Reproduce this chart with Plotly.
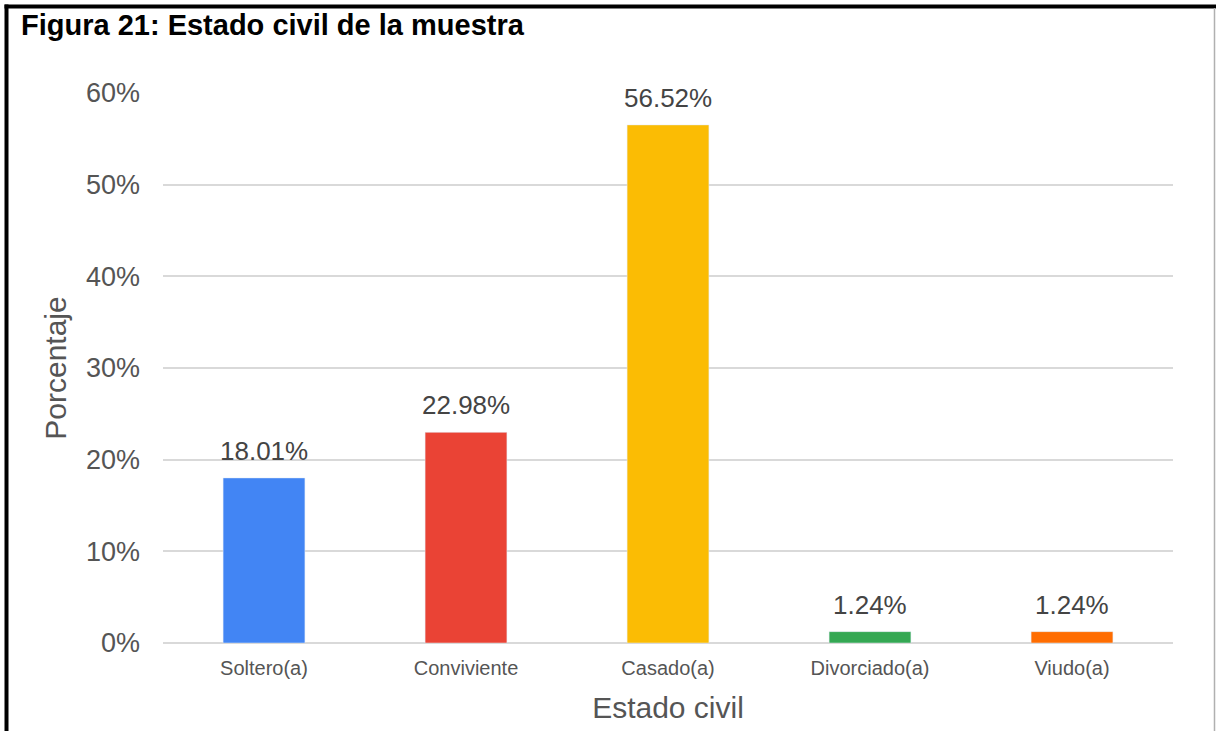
import plotly.graph_objects as go

categories = ["Soltero(a)", "Conviviente", "Casado(a)", "Divorciado(a)", "Viudo(a)"]
values = [18.01, 22.98, 56.52, 1.24, 1.24]
labels = ["18.01%", "22.98%", "56.52%", "1.24%", "1.24%"]
colors = ["#4285F4", "#EA4335", "#FBBC04", "#34A853", "#FF6D01"]
y_ticks = [0, 10, 20, 30, 40, 50, 60]
y_tick_text = ["0%", "10%", "20%", "30%", "40%", "50%", "60%"]

W, H = 1216, 731
L, R, T, B = 163, 43, 93, 88
pw, ph = W - L - R, H - T - B
FONT = "Liberation Sans, Arial"

def px(x):
    return (x - L) / pw

def py(y):
    return (H - B - y) / ph

fig = go.Figure()
fig.add_trace(go.Bar(
    x=categories, y=values, marker_color=colors, width=0.405,
    hoverinfo="x+y", showlegend=False,
))

for c, v, t in zip(categories, values, labels):
    fig.add_annotation(x=c, y=v, text=t, showarrow=False, yanchor="bottom",
                       yshift=10, font=dict(size=26, color="#444444", family=FONT))

shapes = [
    dict(type="line", xref="paper", yref="paper", x0=px(6.5), x1=px(6.5),
         y0=py(4.5), y1=py(740), line=dict(color="black", width=4)),
    dict(type="line", xref="paper", yref="paper", x0=px(4.5), x1=px(1216),
         y0=py(6.5), y1=py(6.5), line=dict(color="black", width=4)),
    dict(type="line", xref="paper", yref="paper", x0=px(1214.5), x1=px(1214.5),
         y0=py(8), y1=py(740), line=dict(color="#b0b0b0", width=1.5)),
]

fig.update_layout(
    width=W, height=H,
    margin=dict(l=L, r=R, t=T, b=B, pad=0),
    paper_bgcolor="white", plot_bgcolor="white",
    font=dict(family=FONT, color="#555555"),
    shapes=shapes,
)
fig.add_annotation(xref="paper", yref="paper", x=px(19), y=py(25),
                   xanchor="left", yanchor="middle", showarrow=False,
                   text="<b>Figura 21: Estado civil de la muestra</b>",
                   font=dict(size=29, color="black", family=FONT))

fig.update_xaxes(
    range=[-0.5, 4.5], showgrid=False, showline=False, zeroline=False,
    tickfont=dict(size=20, color="#555555"), ticks="", ticklabelstandoff=11,
    title=dict(text="Estado civil", font=dict(size=30, color="#555555"), standoff=18),
)
fig.update_yaxes(
    range=[0, 60], tickvals=y_ticks, ticktext=y_tick_text,
    showgrid=True, gridcolor="#d9d9d9", gridwidth=2,
    zeroline=True, zerolinecolor="#d9d9d9", zerolinewidth=2,
    showline=False, ticks="", ticklabelstandoff=22,
    tickfont=dict(size=27, color="#555555"),
    title=dict(text="Porcentaje", font=dict(size=30, color="#555555"), standoff=10),
)

fig.write_html("out.html")
